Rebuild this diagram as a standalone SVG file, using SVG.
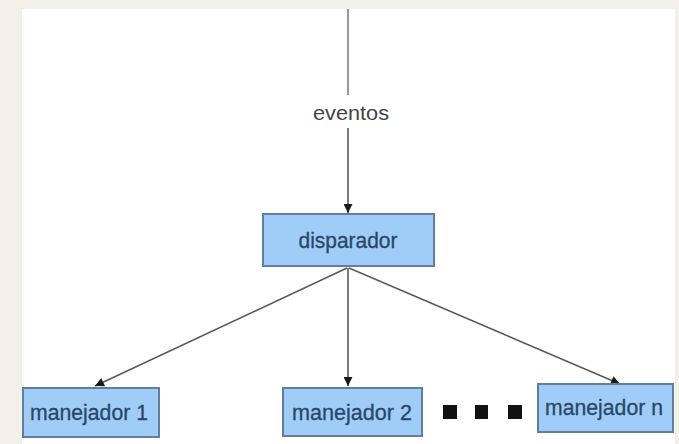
<svg xmlns="http://www.w3.org/2000/svg" width="679" height="444" viewBox="0 0 679 444">
<style>
.box{fill:#9fcdf8;stroke:#5f7f9c;stroke-width:2}
.lbl{font-family:"Liberation Sans",Arial,sans-serif;font-size:22px;fill:#2a4766;text-anchor:middle;stroke:#2a4766;stroke-width:0.3}
.edge{stroke:#5a5a5a;stroke-width:1.6;fill:none;marker-end:url(#arr)}
</style>
<defs>
<marker id="arr" viewBox="0 0 10 10" refX="10" refY="5" markerWidth="11" markerHeight="9" markerUnits="userSpaceOnUse" orient="auto">
<path d="M0,0 L10,5 L0,10 Z" fill="#1a1a1a"/>
</marker>
</defs>
<rect x="0" y="0" width="679" height="444" fill="#f3efe9"/>
<rect x="22" y="9" width="653" height="435" fill="#ffffff"/>
<g id="connectors">
<line x1="348" y1="9" x2="348" y2="95" stroke="#9a9a9a" stroke-width="2"/>
<line class="edge" x1="348" y1="128" x2="348" y2="213" stroke="#8a8a8a"/>
<line class="edge" x1="347" y1="268" x2="95" y2="386"/>
<line class="edge" x1="348" y1="268" x2="348" y2="386"/>
<line class="edge" x1="349" y1="268" x2="620" y2="384"/>
<text x="351" y="120" font-family="'Liberation Sans',Arial,sans-serif" font-size="21" fill="#444" text-anchor="middle" textLength="76" lengthAdjust="spacingAndGlyphs">eventos</text>
</g>
<g id="disparador">
<rect class="box" x="263" y="214" width="171" height="52"/>
<text class="lbl" x="348" y="248" textLength="99" lengthAdjust="spacingAndGlyphs">disparador</text>
</g>
<g id="manejador1">
<rect class="box" x="23" y="388" width="136" height="49"/>
<text class="lbl" x="89" y="420" textLength="118" lengthAdjust="spacingAndGlyphs">manejador 1</text>
</g>
<g id="manejador2">
<rect class="box" x="283" y="388" width="139" height="48"/>
<text class="lbl" x="352" y="420" textLength="120" lengthAdjust="spacingAndGlyphs">manejador 2</text>
</g>
<g id="dots">
<rect x="443" y="405" width="14" height="14" fill="#111"/>
<rect x="475" y="405" width="13" height="14" fill="#111"/>
<rect x="508" y="405" width="14" height="14" fill="#111"/>
</g>
<g id="manejadorn">
<rect class="box" x="538" y="384" width="135" height="48"/>
<text class="lbl" x="604" y="415" textLength="118" lengthAdjust="spacingAndGlyphs">manejador n</text>
</g>
</svg>
